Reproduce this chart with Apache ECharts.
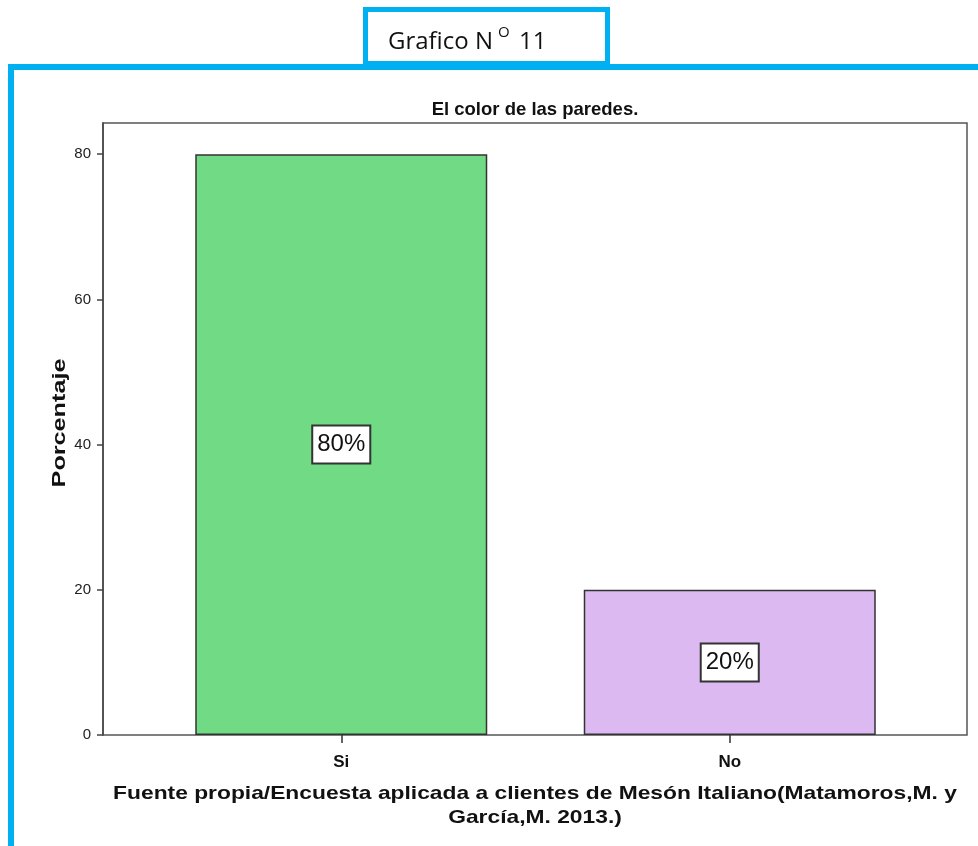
<!DOCTYPE html>
<html>
<head>
<meta charset="utf-8">
<script src="https://cdn.jsdelivr.net/npm/echarts@6/dist/echarts.min.js"></script>
<style>
  html, body { margin: 0; padding: 0; background: #ffffff; }
  #chart { width: 978px; height: 846px; }
</style>
</head>
<body>
<div id="chart"></div>
<script>
// Respuestas: porcentaje por categoría
const categories = ['Si', 'No'];
const percentages = [80, 20];
const barColors = ['#70db84', '#dcb9f1'];
const yTicks = [0, 20, 40, 60, 80];

const chart = echarts.init(document.getElementById('chart'));
const FONT = '"Liberation Sans", Arial, sans-serif';
const CAP_FONT = '"Open Sans", "Liberation Sans", sans-serif';
const CYAN = '#00b0f0';
const Y_MAX = 84.3;

const option = {
  backgroundColor: '#ffffff',
  animation: false,
  grid: [
    // plot frame with the percentage axis
    { left: 103, top: 123, width: 864, bottom: 111, show: true, borderColor: '#555', borderWidth: 1.5, backgroundColor: 'transparent' },
    // category band area where the bars sit
    { left: 147, top: 123, width: 777, bottom: 111 }
  ],
  xAxis: [
    { gridIndex: 0, type: 'value', show: false, min: 0, max: 1 },
    {
      gridIndex: 1, type: 'category', data: categories,
      axisLine: { show: false },
      axisTick: { show: true, alignWithLabel: true, length: 8, lineStyle: { color: '#333', width: 1.5 } },
      axisLabel: { fontFamily: FONT, fontSize: 17, fontWeight: 'bold', color: '#111', margin: 19 }
    }
  ],
  yAxis: [
    {
      gridIndex: 0, type: 'value', min: 0, max: Y_MAX, interval: 20,
      axisLine: { show: true, lineStyle: { color: '#444', width: 1.5 } },
      axisTick: { show: true, length: 6, lineStyle: { color: '#444', width: 1.5 },
        customValues: yTicks },
      axisLabel: { fontFamily: FONT, fontSize: 15, color: '#222', margin: 12,
        customValues: yTicks },
      splitLine: { show: false }
    },
    { gridIndex: 1, type: 'value', min: 0, max: Y_MAX, show: false, splitLine: { show: false } }
  ],
  series: [{
    type: 'bar',
    xAxisIndex: 1,
    yAxisIndex: 1,
    barWidth: 292,
    data: percentages.map((v, i) => ({
      value: v,
      itemStyle: { color: barColors[i], borderColor: '#333', borderWidth: 1.5 }
    })),
    label: {
      show: true,
      position: 'inside',
      formatter: '{c}%',
      fontFamily: FONT,
      fontSize: 24,
      color: '#111',
      backgroundColor: '#ffffff',
      borderColor: '#333',
      borderWidth: 2,
      padding: [7, 4, 5, 4]
    }
  }],
  graphic: [
    // cyan frame around the chart (left and top edges)
    { type: 'rect', shape: { x: 11, y: 67, width: 980, height: 800 },
      style: { fill: 'none', stroke: CYAN, lineWidth: 6 }, z: 10 },
    // caption box above the frame
    { type: 'rect', shape: { x: 365.5, y: 9.5, width: 242, height: 54 },
      style: { fill: '#ffffff', stroke: CYAN, lineWidth: 5 }, z: 11 },
    { type: 'text', x: 388, y: 42, z: 12,
      style: { text: 'Grafico N', font: '24px ' + CAP_FONT, fill: '#111', align: 'left', verticalAlign: 'middle' } },
    { type: 'text', x: 498, y: 33, z: 12,
      style: { text: 'O', font: '15px ' + CAP_FONT, fill: '#111', align: 'left', verticalAlign: 'middle' } },
    { type: 'text', x: 519, y: 42, z: 12,
      style: { text: '11', font: '24px ' + CAP_FONT, fill: '#111', align: 'left', verticalAlign: 'middle' } },
    // chart title
    { type: 'text', x: 535, y: 110, z: 12,
      style: { text: 'El color de las paredes.', font: 'bold 18.5px ' + FONT, fill: '#111', align: 'center', verticalAlign: 'middle' } },
    // y axis title
    { type: 'text', x: 60, y: 423, rotation: Math.PI / 2, scaleX: 1.4, z: 12,
      style: { text: 'Porcentaje', font: 'bold 18px ' + FONT, fill: '#111', align: 'center', verticalAlign: 'middle' } },
    // source note, two centred lines
    { type: 'text', x: 535, y: 794, scaleX: 1.2, z: 12,
      style: { text: 'Fuente propia/Encuesta aplicada a clientes de Mesón Italiano(Matamoros,M. y', font: 'bold 19px ' + FONT, fill: '#111', align: 'center', verticalAlign: 'middle' } },
    { type: 'text', x: 535, y: 818, scaleX: 1.2, z: 12,
      style: { text: 'García,M. 2013.)', font: 'bold 19px ' + FONT, fill: '#111', align: 'center', verticalAlign: 'middle' } }
  ]
};

chart.setOption(option);
</script>
</body>
</html>
